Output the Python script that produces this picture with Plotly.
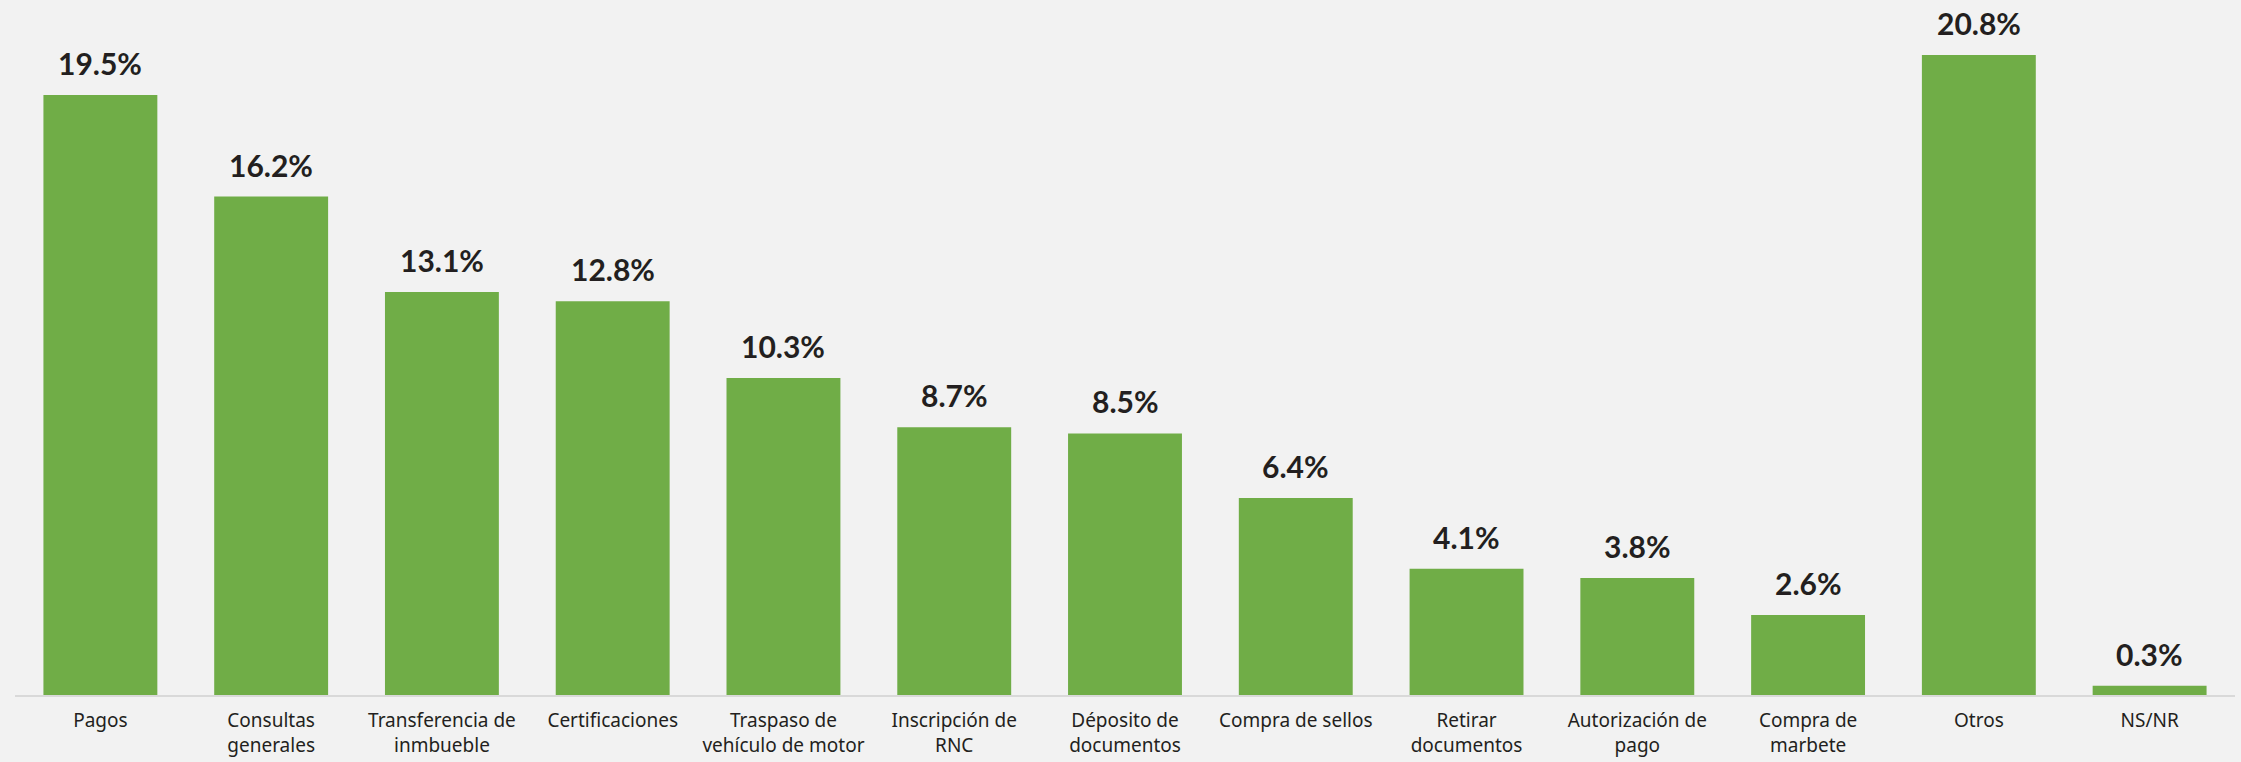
import plotly.graph_objects as go

# Trámites realizados (porcentaje de respuestas)
categorias = [
    "Pagos", "Consultas generales", "Transferencia de inmbueble", "Certificaciones",
    "Traspaso de vehículo de motor", "Inscripción de RNC", "Déposito de documentos",
    "Compra de sellos", "Retirar documentos", "Autorización de pago",
    "Compra de marbete", "Otros", "NS/NR",
]
etiquetas = [
    "Pagos", "Consultas<br>generales", "Transferencia de<br>inmbueble", "Certificaciones",
    "Traspaso de<br>vehículo de motor", "Inscripción de<br>RNC", "Déposito de<br>documentos",
    "Compra de sellos", "Retirar<br>documentos", "Autorización de<br>pago",
    "Compra de<br>marbete", "Otros", "NS/NR",
]
porcentajes = [19.5, 16.2, 13.1, 12.8, 10.3, 8.7, 8.5, 6.4, 4.1, 3.8, 2.6, 20.8, 0.3]

VERDE = "#70ad47"
FONDO = "#f2f2f2"
TEXTO = "#231f20"

fig = go.Figure(
    go.Bar(
        x=categorias,
        y=porcentajes,
        marker=dict(color=VERDE, line=dict(width=0)),
        hoverinfo="skip",
    )
)

# Valor encima de cada barra
for cat, val in zip(categorias, porcentajes):
    fig.add_annotation(
        x=cat, y=val, text=f"{val:.1f}%",
        showarrow=False, yanchor="bottom", yshift=12,
        font=dict(family="Lato", size=30, color=TEXTO, weight="bold"),
    )

fig.update_layout(
    width=2241, height=762,
    margin=dict(l=15, r=6, t=0, b=67),
    paper_bgcolor=FONDO, plot_bgcolor=FONDO,
    bargap=0.333,
    showlegend=False,
    xaxis=dict(
        tickmode="array", tickvals=categorias, ticktext=etiquetas,
        tickfont=dict(family="Noto Sans", size=19, color=TEXTO),
        ticklabelstandoff=7, automargin=False,
        showline=True, linecolor="#d9d9d9", linewidth=2,
        showgrid=False, ticks="", zeroline=False,
    ),
    yaxis=dict(
        range=[0, 22.59], visible=False, showgrid=False, zeroline=False,
    ),
)

fig.write_html("out.html")
